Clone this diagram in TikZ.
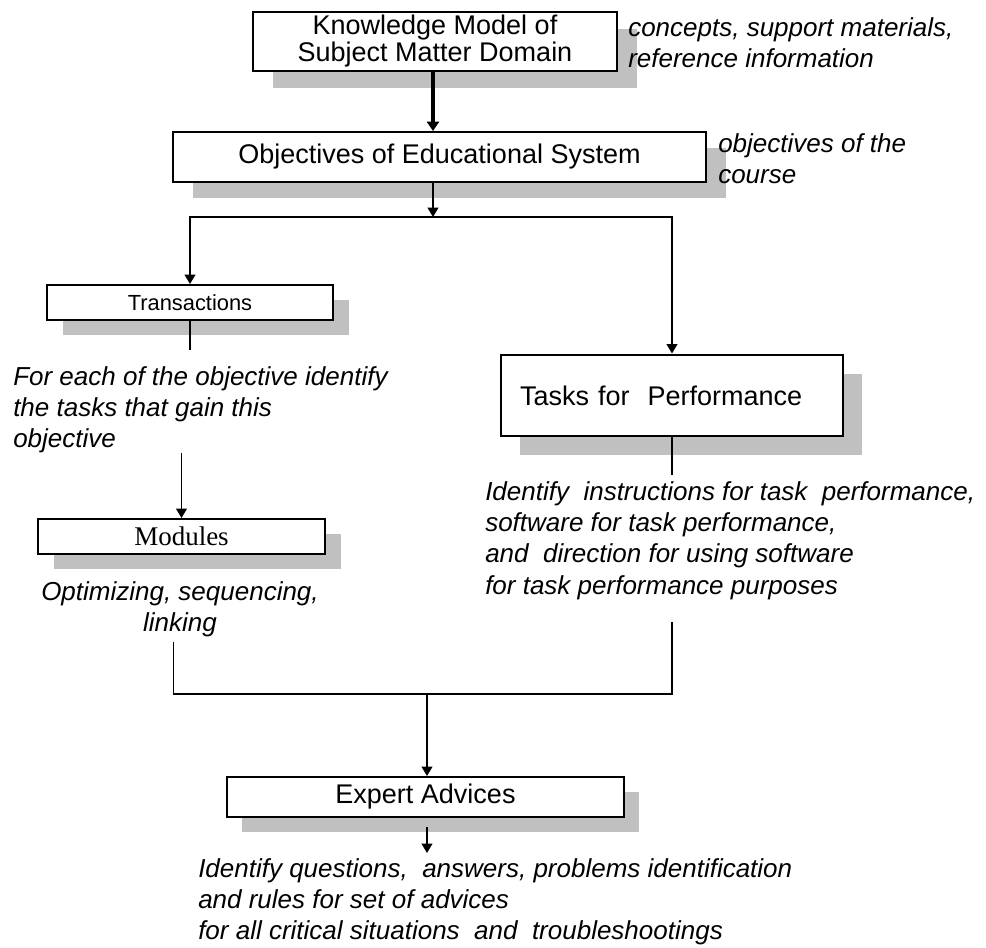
\documentclass[tikz,border=0pt]{standalone}
\usepackage{fontspec}
\setmainfont{Liberation Sans}
\newfontfamily\modfont{Liberation Serif}
\usetikzlibrary{arrows.meta,shadows}
\definecolor{shadowgray}{RGB}{192,192,192}

\newcommand{\boxfont}{\fontsize{20.25pt}{20.25pt}\selectfont}
\newcommand{\notefont}{\fontsize{19.5pt}{23.5pt}\selectfont\itshape}

\tikzset{
  box/.style={draw, fill=white, line width=1.5pt, inner sep=0pt, font=\boxfont, align=center},
  boxshadow/.style 2 args={drop shadow={shadow xshift=#1, shadow yshift=#2, fill=shadowgray, opacity=1}},
  note/.style={inner sep=0pt, font=\notefont, align=left},
  wire/.style={line width=1.2pt},
  flow/.style={wire, -{Triangle[width=8pt,length=7pt]}},
}

\begin{document}
\begin{tikzpicture}[x=0.75pt, y=-0.75pt]
    \useasboundingbox (0,0) rectangle (986,947);

    % Boxes
    \node[box, line width=2.2pt, boxshadow={15pt}{-12.75pt}, minimum width=273pt, minimum height=44.25pt] (know) at (435,41.5) {Knowledge Model of\\Subject Matter Domain};
    \node[box, boxshadow={15pt}{-12pt}, minimum width=399.75pt, minimum height=37.5pt] (obj) at (439.5,157) {Objectives of Educational System};
    \node[box, boxshadow={12pt}{-11.25pt}, minimum width=214.5pt, minimum height=26.25pt, font=\fontsize{16.4pt}{16.4pt}\selectfont] (trans) at (190,302.5) {Transactions};
    \node[box, line width=2.2pt, boxshadow={14.25pt}{-14.25pt}, text width=228pt, inner xsep=14.25pt, align=left, minimum height=60.75pt] (tasks) at (672,395.5) {Tasks for~ Performance};
    \node[box, boxshadow={12pt}{-11.25pt}, minimum width=215.25pt, minimum height=26.25pt, font=\modfont\fontsize{20.25pt}{20.25pt}\selectfont] (modules) at (181.5,536.5) {Modules};
    \node[box, boxshadow={11.25pt}{-11.25pt}, minimum width=297.75pt, minimum height=30pt] (expert) at (425.5,797) {Expert Advices};

    % Notes
    \node[note, anchor=north west] (knownote) at (628,17) {concepts, support materials,\\reference information};
    \node[note, anchor=north west] (objnote) at (718,133) {objectives of the\\course};
    \node[note, anchor=north west] (transnote) at (13,366) {For each of the objective identify\\the tasks that gain this\\objective};
    \node[note, align=center, anchor=north] (modnote) at (180,581) {Optimizing, sequencing,\\linking};
    \node[note, anchor=north west] (tasksnote) at (485,481) {Identify~ instructions for task~ performance,\\software for task performance,\\and~ direction for using software\\for task performance purposes};
    \node[note, anchor=north west] (expnote) at (198,858) {Identify questions,~ answers, problems identification\\and rules for set of advices\\for all critical situations~ and~ troubleshootings};

    % Junctions
    \coordinate (split) at (433,217);
    \coordinate (merge) at (427,694);

    % Connectors
    \draw[wire, line width=3pt, -{Triangle[width=9pt,length=7pt]}] (split |- know.south) -- (split |- obj.north);
    \draw[flow] (split |- obj.south) -- (split);
    \draw[flow] (split) -| (trans.north);
    \draw[flow] (split) -| (tasks.north);
    \draw[wire, shorten >=12pt] (trans.south) -- (trans.south |- transnote.north);
    \draw[flow] (modules.north |- transnote.south) -- (modules.north);
    \draw[wire, shorten >=4.5pt] (tasks.south) -- (tasks.south |- tasksnote.north);
    \draw[wire, shorten <=3.75pt] ([xshift=-5pt]modnote.south) |- (merge);
    \draw[wire, shorten <=16.5pt] (tasks.south |- tasksnote.south) |- (merge);
    \draw[flow] (merge) -- (merge |- expert.north);
    \draw[flow, shorten <=6.75pt, shorten >=3.75pt] (merge |- expert.south) -- (merge |- expnote.north);

\end{tikzpicture}
\end{document}
